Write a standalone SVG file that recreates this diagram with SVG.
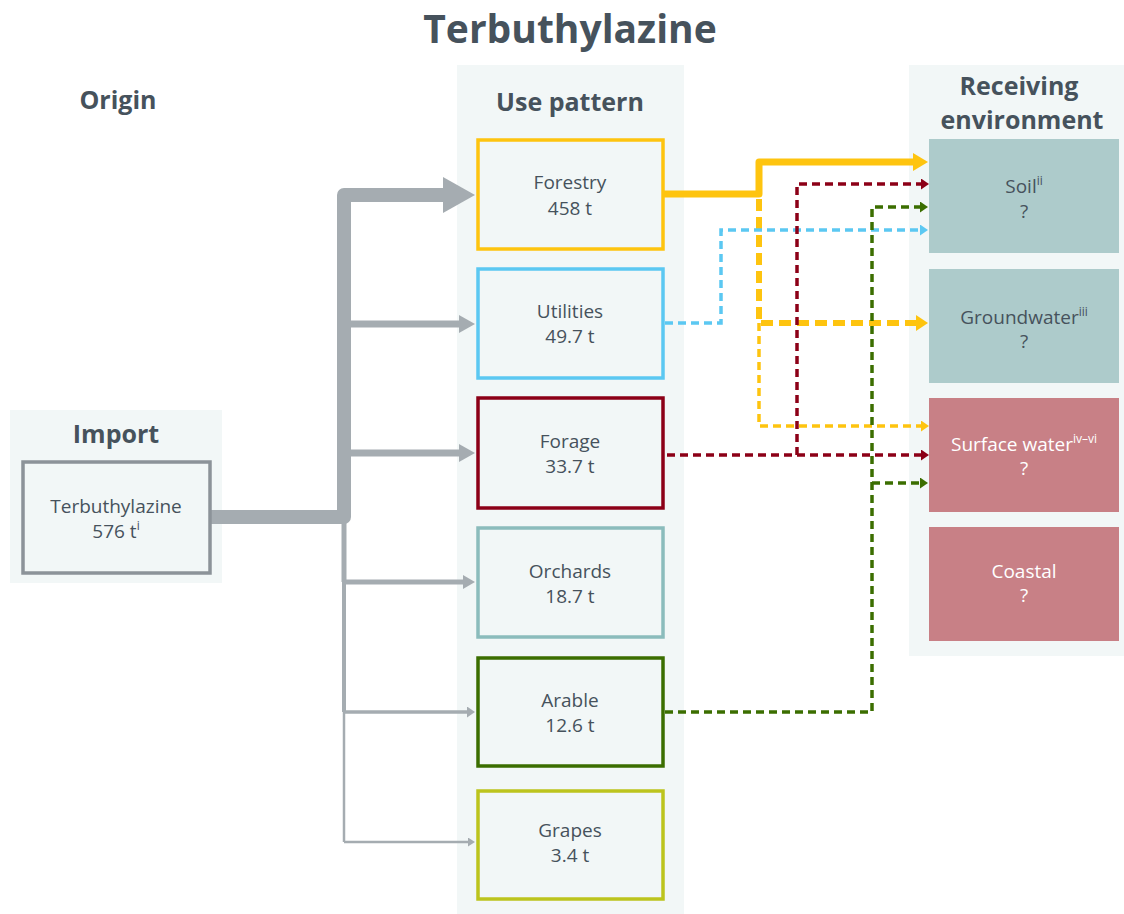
<svg xmlns="http://www.w3.org/2000/svg" width="1124" height="914" viewBox="0 0 1124 914">
<style>
text{font-family:"Open Sans","Noto Sans","Liberation Sans",sans-serif;fill:#46525c;text-anchor:middle}
.title{font-size:39px;font-weight:bold}
.head{font-size:25px;font-weight:bold}
.lbl{font-size:19px}
.sup{font-size:12px}
.w{fill:#ffffff}
.panel{fill:#f2f7f7}
.ubox{fill:#f2f7f7;stroke-width:3.5}
.rbox{stroke:none}
.g{fill:none;stroke:#a5acb1;stroke-linejoin:round}
.c{fill:none;stroke-width:3.5;stroke-dasharray:8 5}
</style>
<defs>
<marker id="gA" markerUnits="userSpaceOnUse" markerWidth="32" markerHeight="36" refX="0" refY="18" orient="auto"><path d="M0,0 L32,18 L0,36 z" fill="#a5acb1"/></marker>
<marker id="gB" markerUnits="userSpaceOnUse" markerWidth="16" markerHeight="18" refX="0" refY="9" orient="auto"><path d="M0,0 L16,9 L0,18 z" fill="#a5acb1"/></marker>
<marker id="gC" markerUnits="userSpaceOnUse" markerWidth="12" markerHeight="14" refX="0" refY="7" orient="auto"><path d="M0,0 L12,7 L0,14 z" fill="#a5acb1"/></marker>
<marker id="gD" markerUnits="userSpaceOnUse" markerWidth="8" markerHeight="11" refX="0" refY="5.5" orient="auto"><path d="M0,0 L8,5.5 L0,11 z" fill="#a5acb1"/></marker>
<marker id="gE" markerUnits="userSpaceOnUse" markerWidth="7" markerHeight="9" refX="0" refY="4.5" orient="auto"><path d="M0,0 L7,4.5 L0,9 z" fill="#a5acb1"/></marker>
<marker id="yA" markerUnits="userSpaceOnUse" markerWidth="15" markerHeight="18" refX="0" refY="9" orient="auto"><path d="M0,0 L15,9 L0,18 z" fill="#fec40f"/></marker>
<marker id="yB" markerUnits="userSpaceOnUse" markerWidth="12" markerHeight="16" refX="0" refY="8" orient="auto"><path d="M0,0 L12,8 L0,16 z" fill="#fec40f"/></marker>
<marker id="yC" markerUnits="userSpaceOnUse" markerWidth="8" markerHeight="11" refX="0" refY="5.5" orient="auto"><path d="M0,0 L8,5.5 L0,11 z" fill="#fec40f"/></marker>
<marker id="bC" markerUnits="userSpaceOnUse" markerWidth="8" markerHeight="11" refX="0" refY="5.5" orient="auto"><path d="M0,0 L8,5.5 L0,11 z" fill="#5bc8f2"/></marker>
<marker id="rC" markerUnits="userSpaceOnUse" markerWidth="8" markerHeight="11" refX="0" refY="5.5" orient="auto"><path d="M0,0 L8,5.5 L0,11 z" fill="#8c0017"/></marker>
<marker id="vC" markerUnits="userSpaceOnUse" markerWidth="8" markerHeight="11" refX="0" refY="5.5" orient="auto"><path d="M0,0 L8,5.5 L0,11 z" fill="#3b6e00"/></marker>
</defs>
<rect width="1124" height="914" fill="#ffffff"/>
<text class="title" x="570" y="43">Terbuthylazine</text>
<g id="panels">
<rect class="panel" x="10" y="410" width="212" height="173"/>
<rect class="panel" x="457" y="65" width="227" height="849"/>
<rect class="panel" x="909" y="65" width="215" height="591"/>
<text class="head" x="118" y="109">Origin</text>
<text class="head" x="116" y="443">Import</text>
<text class="head" x="570" y="111">Use pattern</text>
<text class="head" x="1019" y="95">Receiving</text>
<text class="head" x="1022" y="129">environment</text>
</g>
<g id="connectors">
<path class="g" d="M210 517 H344 V195 H443" stroke-width="14" marker-end="url(#gA)"/>
<path class="g" d="M344 324 H459" stroke-width="7" marker-end="url(#gB)"/>
<path class="g" d="M344 453 H459" stroke-width="7" marker-end="url(#gB)"/>
<path class="g" d="M344 517 V582" stroke-width="5"/>
<path class="g" d="M344 582 H463" stroke-width="5" marker-end="url(#gC)"/>
<path class="g" d="M344 582 V712" stroke-width="4"/>
<path class="g" d="M344 712 H467" stroke-width="3.5" marker-end="url(#gD)"/>
<path class="g" d="M344 712 V842" stroke-width="2.5"/>
<path class="g" d="M344 842 H468" stroke-width="2.5" marker-end="url(#gE)"/>
<path d="M663 194 H759 V162 H913" fill="none" stroke="#fec40f" stroke-width="7" stroke-linejoin="round" marker-end="url(#yA)"/>
<path d="M759 199 V323 H916" fill="none" stroke="#fec40f" stroke-width="6" stroke-dasharray="12 6" marker-end="url(#yB)"/>
<path class="c" d="M759 323 V426 H921" stroke="#fec40f" marker-end="url(#yC)"/>
<path class="c" d="M665 323 H721 V230 H920" stroke="#5bc8f2" marker-end="url(#bC)"/>
<path class="c" d="M667 455 H921" stroke="#8c0017" marker-end="url(#rC)"/>
<path class="c" d="M797 455 V184 H921" stroke="#8c0017" marker-end="url(#rC)"/>
<path class="c" d="M665 712 H872 V207 H920" stroke="#3b6e00" marker-end="url(#vC)"/>
<path class="c" d="M872 483 H920" stroke="#3b6e00" marker-end="url(#vC)"/>
</g>
<g id="import">
<rect x="23" y="462" width="187" height="111" fill="#f2f7f7" stroke="#8c9399" stroke-width="3.5"/>
<text class="lbl" x="116" y="513">Terbuthylazine</text>
<text class="lbl" x="116" y="538">576 t<tspan class="sup" dy="-8">i</tspan></text>
</g>
<g id="forestry">
<rect class="ubox" x="478" y="140" width="185" height="109" stroke="#fec40f"/>
<text class="lbl" x="570" y="189">Forestry</text>
<text class="lbl" x="570" y="215">458 t</text>
</g>
<g id="utilities">
<rect class="ubox" x="478" y="269" width="185" height="109" stroke="#5bc8f2"/>
<text class="lbl" x="570" y="318">Utilities</text>
<text class="lbl" x="570" y="343">49.7 t</text>
</g>
<g id="forage">
<rect class="ubox" x="478" y="398" width="185" height="110" stroke="#8c0017"/>
<text class="lbl" x="570" y="448">Forage</text>
<text class="lbl" x="570" y="473">33.7 t</text>
</g>
<g id="orchards">
<rect class="ubox" x="478" y="528" width="185" height="109" stroke="#8bbcbc"/>
<text class="lbl" x="570" y="578">Orchards</text>
<text class="lbl" x="570" y="603">18.7 t</text>
</g>
<g id="arable">
<rect class="ubox" x="478" y="658" width="185" height="108" stroke="#3b6e00"/>
<text class="lbl" x="570" y="707">Arable</text>
<text class="lbl" x="570" y="732">12.6 t</text>
</g>
<g id="grapes">
<rect class="ubox" x="478" y="791" width="185" height="108" stroke="#bcc41d"/>
<text class="lbl" x="570" y="837">Grapes</text>
<text class="lbl" x="570" y="862">3.4 t</text>
</g>
<g id="soil">
<rect class="rbox" x="929" y="139" width="190" height="114" fill="#adcbcb"/>
<text class="lbl" x="1024" y="193">Soil<tspan class="sup" dy="-8">ii</tspan></text>
<text class="lbl" x="1024" y="218">?</text>
</g>
<g id="groundwater">
<rect class="rbox" x="929" y="269" width="190" height="114" fill="#adcbcb"/>
<text class="lbl" x="1024" y="324">Groundwater<tspan class="sup" dy="-8">iii</tspan></text>
<text class="lbl" x="1024" y="348">?</text>
</g>
<g id="surfacewater">
<rect class="rbox" x="929" y="398" width="190" height="114" fill="#c88086"/>
<text class="lbl w" x="1024" y="451">Surface water<tspan class="sup w" dy="-8">iv–vi</tspan></text>
<text class="lbl w" x="1024" y="475">?</text>
</g>
<g id="coastal">
<rect class="rbox" x="929" y="527" width="190" height="114" fill="#c88086"/>
<text class="lbl w" x="1024" y="578">Coastal</text>
<text class="lbl w" x="1024" y="602">?</text>
</g>
</svg>
